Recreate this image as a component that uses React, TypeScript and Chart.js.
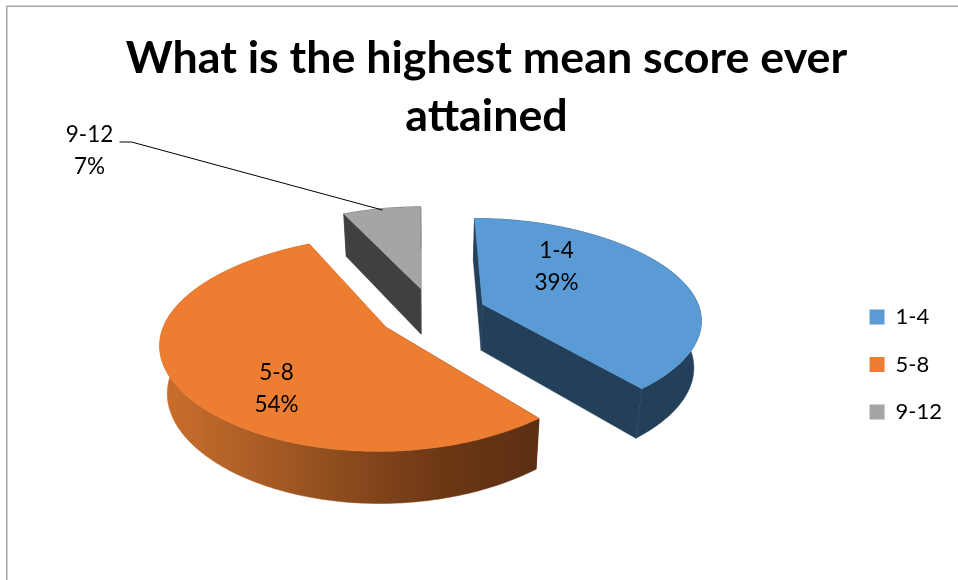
import React, { useEffect, useRef } from "react";
import { Chart, registerables } from "chart.js";

Chart.register(...registerables);

const categories = ["1-4", "5-8", "9-12"];
const shares = [39, 54, 7];
const topColors = ["#5B9BD5", "#ED7D31", "#A5A5A5"];
const wallColors = [
  ["#243F59", "#243F59"],
  ["#CB6F2C", "#AC5E26", "#8A4A1C", "#6C3714", "#5C2F13"],
  ["#404040", "#404040"],
];
const titleLines = ["What is the highest mean score ever", "attained"];

const FONT = "Lato, Carlito, Calibri, sans-serif";

// Perspective settings for the tilted pie
const TILT = 0.48;
const PERSPECTIVE = 0.149;
const THICKNESS = 46.5;
const BASE_SHRINK = 0.972;
const RADIUS = 210;
const EXPLODE = 54;
const SIDE_BULGE = 0.04;

// Data label centres, relative to the pie centre
const labelOffsets = [
  [124, -46],
  [-156, 76],
  [-343, -162],
];
const LINE_GAP = 32;

const pie3d = {
  id: "pie3d",
  afterLayout(chart: any) {
    chart.legend.left -= 6;
  },
  beforeDraw(chart: any) {
    const { ctx, width, height } = chart;
    ctx.save();
    ctx.strokeStyle = "#A8A8A8";
    ctx.lineWidth = 1.5;
    ctx.beginPath();
    ctx.moveTo(6.75, height);
    ctx.lineTo(6.75, 6.25);
    ctx.lineTo(width, 6.25);
    ctx.stroke();
    ctx.restore();
  },
  // Replaces the flat arcs with extruded ones built from the same arc elements
  beforeDatasetsDraw(chart: any) {
    const { ctx } = chart;
    const meta = chart.getDatasetMeta(0);
    const arcs: any[] = meta.data;
    const ox = arcs[0].x;
    const oy = arcs[0].y;

    const scaleAt = (v: number) => 1 / (1 - (PERSPECTIVE * v) / RADIUS);
    const top = (u: number, v: number) => {
      const s = scaleAt(v);
      return [ox + u * s, oy + TILT * v * s];
    };
    const base = (u: number, v: number) => {
      const s = scaleAt(v);
      return [ox + u * s * BASE_SHRINK, oy + TILT * v * s * BASE_SHRINK + THICKNESS * s];
    };
    const paint = (pts: number[][], style: any) => {
      ctx.beginPath();
      pts.forEach((p, i) => (i ? ctx.lineTo(p[0], p[1]) : ctx.moveTo(p[0], p[1])));
      ctx.closePath();
      ctx.fillStyle = style;
      ctx.strokeStyle = style;
      ctx.lineWidth = 0.5;
      ctx.fill();
      ctx.stroke();
    };

    const slices = arcs.map((arc, index) => {
      const mid = (arc.startAngle + arc.endAngle) / 2;
      const ex = arc.options.offset * Math.cos(mid);
      const ey = arc.options.offset * Math.sin(mid);
      const rim: number[][] = [];
      const steps = Math.ceil(((arc.endAngle - arc.startAngle) * 180) / Math.PI);
      for (let i = 0; i <= steps; i++) {
        const a = arc.startAngle + ((arc.endAngle - arc.startAngle) * i) / steps;
        const c = Math.cos(a);
        rim.push([ex + arc.outerRadius * c * (1 + SIDE_BULGE * c * c), ey + arc.outerRadius * Math.sin(a)]);
      }
      return { index, ex, ey, rim, color: arc.options.backgroundColor };
    });

    // Far slices first so nearer ones paint over them
    slices.sort((a, b) => a.ey - b.ey);

    for (const { index, ex, ey, rim, color } of slices) {
      const topRim = rim.map(([u, v]) => top(u, v));
      const baseRim = rim.map(([u, v]) => base(u, v));
      const tipTop = top(ex, ey);
      const tipBase = base(ex, ey);
      const stops = wallColors[index];

      const xs = baseRim.concat(topRim).map((p) => p[0]);
      const grad = ctx.createLinearGradient(Math.min(...xs), 0, Math.max(...xs), 0);
      stops.forEach((c, i) => grad.addColorStop(i / (stops.length - 1), c));

      paint([tipTop, topRim[0], baseRim[0], tipBase], stops[stops.length - 1]);
      paint([tipTop, topRim[topRim.length - 1], baseRim[baseRim.length - 1], tipBase], stops[0]);
      paint(topRim.concat(baseRim.slice().reverse()), grad);
      paint([tipTop, ...topRim], color);
    }

    // Leader line from the small slice to its label
    ctx.save();
    ctx.strokeStyle = "#000000";
    ctx.lineWidth = 1;
    ctx.beginPath();
    ctx.moveTo(ox - 313, oy - 171);
    ctx.lineTo(ox - 301, oy - 171);
    ctx.lineTo(ox - 50, oy - 103);
    ctx.stroke();
    ctx.restore();

    // Category and percentage labels
    ctx.save();
    ctx.fillStyle = "#000000";
    ctx.font = `22.5px ${FONT}`;
    ctx.textAlign = "center";
    ctx.textBaseline = "middle";
    categories.forEach((name, i) => {
      const [dx, dy] = labelOffsets[i];
      ctx.fillText(name, ox + dx, oy + dy - LINE_GAP / 2);
      ctx.fillText(`${shares[i]}%`, ox + dx, oy + dy + LINE_GAP / 2);
    });
    ctx.restore();

    return false;
  },
};

export default function App() {
  const ref = useRef<HTMLCanvasElement | null>(null);

  useEffect(() => {
    const chart = new Chart(ref.current as HTMLCanvasElement, {
      type: "pie",
      data: {
        labels: categories,
        datasets: [
          {
            data: shares,
            backgroundColor: topColors,
            borderWidth: 0,
            offset: EXPLODE,
            radius: RADIUS,
          } as any,
        ],
      },
      options: {
        responsive: false,
        animation: false,
        rotation: -0.5,
        layout: { padding: { left: 15, right: 0, top: 0, bottom: 131.5 } },
        plugins: {
          tooltip: { enabled: false },
          title: {
            display: true,
            text: titleLines,
            color: "#000000",
            font: { family: FONT, size: 44.75, weight: "bold", lineHeight: "58px" },
            padding: { top: 30, bottom: 31.5 },
          },
          legend: {
            display: true,
            position: "right",
            align: "end",
            labels: {
              boxWidth: 15,
              boxHeight: 15,
              padding: 25.5,
              color: "#000000",
              font: { family: FONT, size: 22 },
            },
          },
        },
      } as any,
      plugins: [pie3d],
    });
    return () => chart.destroy();
  }, []);

  return (
    <canvas
      ref={ref}
      width={958}
      height={580}
      style={{ position: "fixed", left: 0, top: 0, display: "block" }}
    />
  );
}
